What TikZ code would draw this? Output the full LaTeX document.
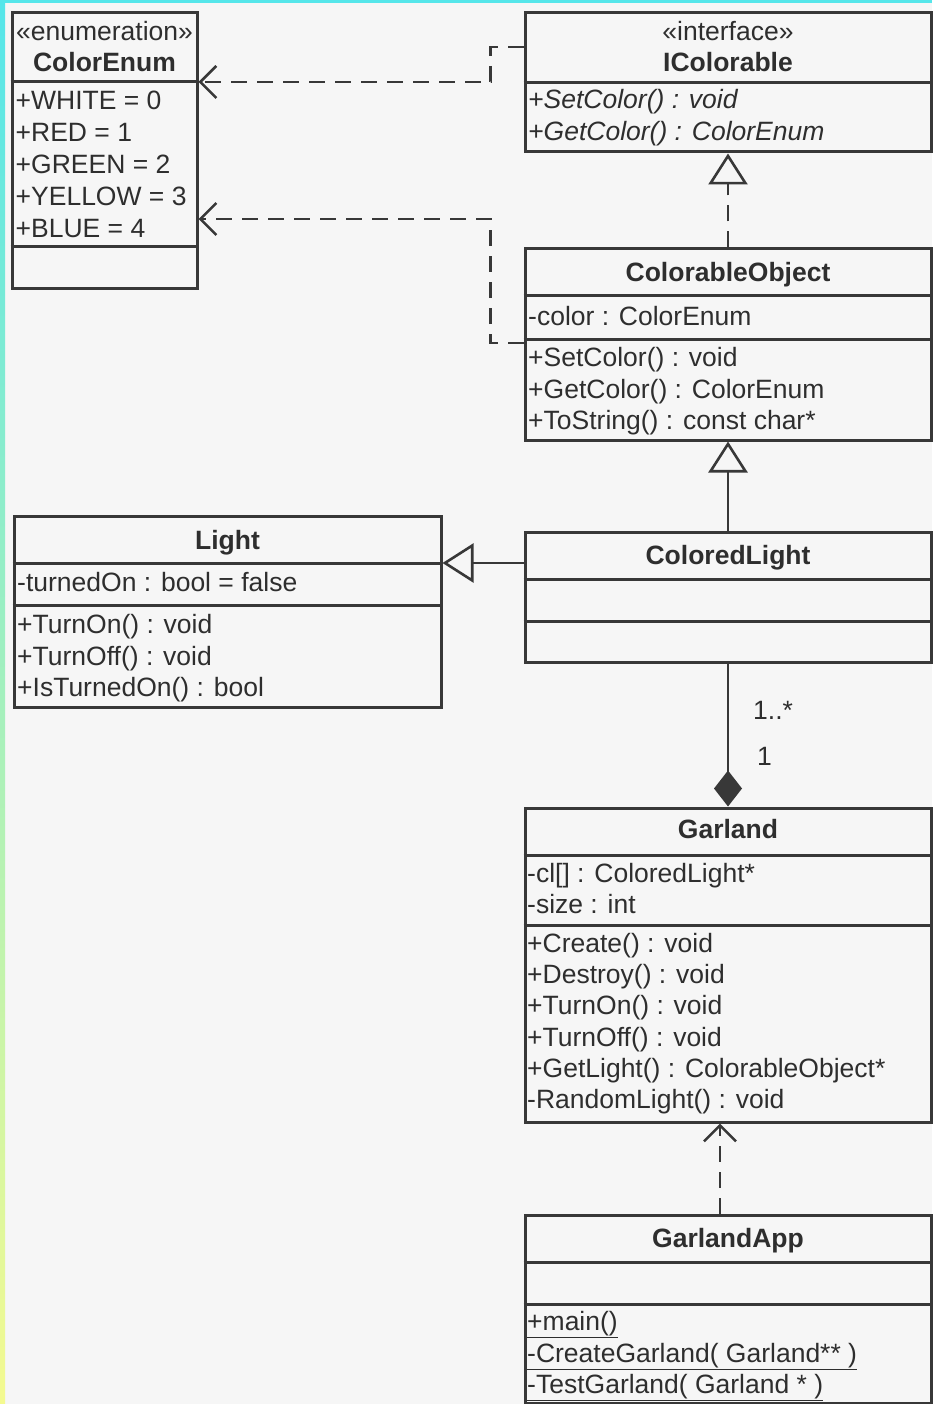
\documentclass[tikz,border=0pt]{standalone}
\usepackage{fontspec}
\setmainfont{Liberation Sans}
\usetikzlibrary{arrows.meta,calc}
\definecolor{bgc}{HTML}{F6F6F6}
\definecolor{linec}{HTML}{383838}
\definecolor{txtc}{HTML}{2E2E2E}
\definecolor{stripA}{HTML}{55E6EA}
\definecolor{stripB}{HTML}{F4FA90}
\tikzset{
  cls/.style={draw=linec, line width=3pt, rectangle, inner sep=0pt},
  lbl/.style={anchor=base west, inner sep=0pt, text=txtc, font=\fontsize{26.5}{32}\selectfont},
  ttl/.style={anchor=base, inner sep=0pt, text=txtc, font=\fontsize{26.5}{32}\selectfont\bfseries},
  divl/.style={draw=linec, line width=3pt},
  conn/.style={draw=linec, line width=2.6pt},
  dep/.style={conn, dash pattern=on 16pt off 10pt, -{Straight Barb[length=16pt,width=32pt]}},
  gen/.style={conn, -{Triangle[open, length=31pt, width=39pt, fill=bgc]}},
  realz/.style={gen, dash pattern=on 16pt off 10pt},
  comp/.style={conn, -{Diamond[length=36pt, width=28pt, fill=linec]}},
}
\begin{document}
\begin{tikzpicture}[x=1pt,y=-1pt]
\useasboundingbox (0,0) rectangle (932,1404);
\fill[bgc] (0,0) rectangle (932,1404);
\shade[top color=stripA, bottom color=stripB] (0,0) rectangle (5,1404);
\fill[stripA] (0,0) rectangle (932,3);

% ColorEnum
\node[cls, minimum width=185pt, minimum height=276pt] (ce) at (104.5,151) {};
\draw[divl] (ce.west |- 0,82) -- (ce.east |- 0,82);
\draw[divl] (ce.west |- 0,247) -- (ce.east |- 0,247);
\node[ttl, font=\fontsize{26.5}{32}\selectfont] (ce-st) at (104.5,41) {«enumeration»};
\node[ttl] (ce-n) at (104.5,72) {ColorEnum};
\node[lbl] (ce-a1) at (15.5,110) {+WHITE = 0};
\node[lbl] (ce-a2) at (15.5,142) {+RED = 1};
\node[lbl] (ce-a3) at (15.5,174) {+GREEN = 2};
\node[lbl] (ce-a4) at (15.5,206) {+YELLOW = 3};
\node[lbl] (ce-a5) at (15.5,238) {+BLUE = 4};

% IColorable
\node[cls, minimum width=406pt, minimum height=139pt] (ic) at (728,82.5) {};
\draw[divl] (ic.west |- 0,83) -- (ic.east |- 0,83);
\node[ttl, font=\fontsize{26.5}{32}\selectfont] (ic-st) at (728,41) {«interface»};
\node[ttl] (ic-n) at (728,72) {IColorable};
\node[lbl, font=\fontsize{26.5}{32}\selectfont\itshape] (ic-o1) at (528,109) {+SetColor() : void};
\node[lbl, font=\fontsize{26.5}{32}\selectfont\itshape] (ic-o2) at (528,141) {+GetColor() : ColorEnum};

% ColorableObject
\node[cls, minimum width=406pt, minimum height=191pt] (co) at (728,344.5) {};
\draw[divl] (co.west |- 0,296) -- (co.east |- 0,296);
\draw[divl] (co.west |- 0,339) -- (co.east |- 0,339);
\node[ttl] (co-n) at (728,282) {ColorableObject};
\node[lbl] (co-a1) at (528,325) {-color : ColorEnum};
\node[lbl] (co-o1) at (528,366) {+SetColor() : void};
\node[lbl] (co-o2) at (528,398) {+GetColor() : ColorEnum};
\node[lbl] (co-o3) at (528,429) {+ToString() : const char*};

% Light
\node[cls, minimum width=427pt, minimum height=191pt] (light) at (227.5,611.5) {};
\draw[divl] (light.west |- 0,563) -- (light.east |- 0,563);
\draw[divl] (light.west |- 0,605) -- (light.east |- 0,605);
\node[ttl] (light-n) at (227.5,549) {Light};
\node[lbl] (light-a1) at (17,591) {-turnedOn : bool = false};
\node[lbl] (light-o1) at (17,633) {+TurnOn() : void};
\node[lbl] (light-o2) at (17,665) {+TurnOff() : void};
\node[lbl] (light-o3) at (17,696) {+IsTurnedOn() : bool};

% ColoredLight
\node[cls, minimum width=406pt, minimum height=130pt] (cl) at (728,597) {};
\draw[divl] (cl.west |- 0,579) -- (cl.east |- 0,579);
\draw[divl] (cl.west |- 0,621) -- (cl.east |- 0,621);
\node[ttl] (cl-n) at (728,564) {ColoredLight};

% Garland
\node[cls, minimum width=406pt, minimum height=314pt] (gar) at (728,965) {};
\draw[divl] (gar.west |- 0,855) -- (gar.east |- 0,855);
\draw[divl] (gar.west |- 0,925) -- (gar.east |- 0,925);
\node[ttl] (gar-n) at (728,838) {Garland};
\node[lbl] (gar-a1) at (527,882) {-cl[] : ColoredLight*};
\node[lbl] (gar-a2) at (527,913) {-size : int};
\node[lbl] (gar-o1) at (527,952) {+Create() : void};
\node[lbl] (gar-o2) at (527,983) {+Destroy() : void};
\node[lbl] (gar-o3) at (527,1014) {+TurnOn() : void};
\node[lbl] (gar-o4) at (527,1046) {+TurnOff() : void};
\node[lbl] (gar-o5) at (527,1077) {+GetLight() : ColorableObject*};
\node[lbl] (gar-o6) at (527,1108) {-RandomLight() : void};

% GarlandApp
\node[cls, minimum width=406pt, minimum height=188pt] (app) at (728,1309) {};
\draw[divl] (app.west |- 0,1262) -- (app.east |- 0,1262);
\draw[divl] (app.west |- 0,1304) -- (app.east |- 0,1304);
\node[ttl] (app-n) at (728,1247) {GarlandApp};
\node[lbl] (app-o1) at (527,1330) {\underline{+main()}};
\node[lbl] (app-o2) at (527,1362) {\underline{-CreateGarland( Garland** )}};
\node[lbl] (app-o3) at (527,1393) {\underline{-TestGarland( Garland * )}};

% connectors
\draw[dep] (ic.west |- 0,47) -- ++(-33,0) |- (ce.east |- 0,82);
\draw[dep] (co.west |- 0,343) -- ++(-33,0) |- (ce.east |- 0,219);
\draw[realz] (co.north) -- (ic.south);
\draw[gen] (cl.north) -- (co.south);
\draw[gen] (cl.west |- 0,563) -- (light.east |- 0,563);
\draw[comp] (cl.south) -- (gar.north);
\node[lbl] (m1) at (753,719) {1..*};
\node[lbl] (m2) at (757,765) {1};
\draw[dep] (app.north -| 720,0) -- (gar.south -| 720,0);
\end{tikzpicture}
\end{document}
